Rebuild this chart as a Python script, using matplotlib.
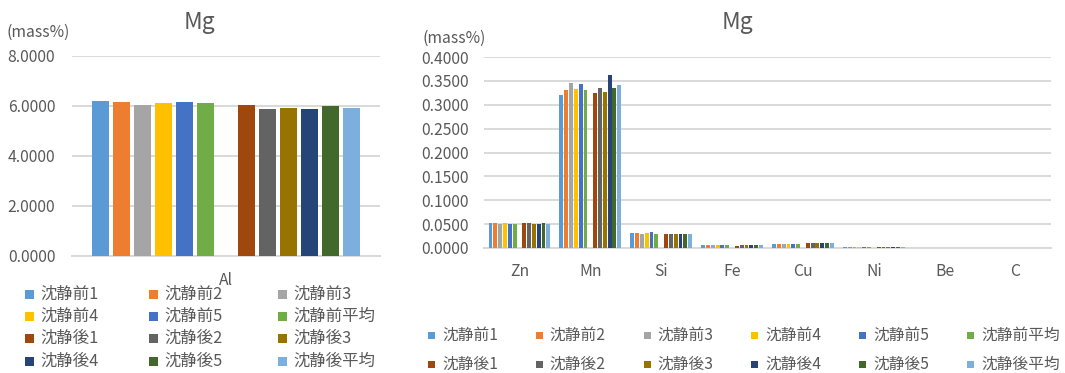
import matplotlib
matplotlib.use("Agg")
import matplotlib.pyplot as plt
from matplotlib.patches import Rectangle
import numpy as np

plt.rcParams['font.family'] = ['Noto Sans CJK JP', 'DejaVu Sans']

# ---- data ----
series_names = ['沈静前1', '沈静前2', '沈静前3', '沈静前4', '沈静前5', '沈静前平均',
                '沈静後1', '沈静後2', '沈静後3', '沈静後4', '沈静後5', '沈静後平均']
series_colors = ['#5B9BD5', '#ED7D31', '#A5A5A5', '#FFC000', '#4472C4', '#70AD47',
                 '#9E480E', '#636363', '#997300', '#264478', '#43682B', '#7CAFDD']

main_categories = ['Al']
al_values = [6.20, 6.16, 6.04, 6.12, 6.15, 6.12,
             6.04, 5.88, 5.92, 5.88, 6.00, 5.93]

trace_categories = ['Zn', 'Mn', 'Si', 'Fe', 'Cu', 'Ni', 'Be', 'C']
before1   = [0.0520, 0.3210, 0.0310, 0.0070, 0.0090, 0.0030, 0.0001, 0.0]
before2   = [0.0520, 0.3300, 0.0310, 0.0070, 0.0090, 0.0030, 0.0001, 0.0]
before3   = [0.0500, 0.3450, 0.0300, 0.0070, 0.0090, 0.0030, 0.0001, 0.0]
before4   = [0.0520, 0.3330, 0.0310, 0.0070, 0.0090, 0.0030, 0.0001, 0.0]
before5   = [0.0505, 0.3430, 0.0330, 0.0070, 0.0090, 0.0030, 0.0001, 0.0]
before_av = [0.0505, 0.3300, 0.0300, 0.0070, 0.0090, 0.0030, 0.0001, 0.0]
after1    = [0.0520, 0.3250, 0.0290, 0.0050, 0.0100, 0.0030, 0.0001, 0.0]
after2    = [0.0520, 0.3350, 0.0290, 0.0065, 0.0110, 0.0030, 0.0001, 0.0]
after3    = [0.0510, 0.3260, 0.0290, 0.0070, 0.0100, 0.0030, 0.0001, 0.0]
after4    = [0.0510, 0.3620, 0.0290, 0.0070, 0.0110, 0.0030, 0.0001, 0.0]
after5    = [0.0530, 0.3360, 0.0290, 0.0070, 0.0100, 0.0030, 0.0001, 0.0]
after_av  = [0.0500, 0.3410, 0.0300, 0.0070, 0.0100, 0.0030, 0.0001, 0.0]
trace_series = [before1, before2, before3, before4, before5, before_av,
                after1, after2, after3, after4, after5, after_av]

# ---- layout helpers (pixel based) ----
W, H = 1065, 373
fig = plt.figure(figsize=(W / 100, H / 100), dpi=100)


def px_axes(x0, y_top, x1, y_bot):
    return fig.add_axes([x0 / W, 1 - y_bot / H, (x1 - x0) / W, (y_bot - y_top) / H])


TEXT = '#595959'
GRID = '#D9D9D9'
SLOT = 0.068      # distance between neighbouring bars within a category
BAR_W = 0.055


def slot_offsets(n):
    # six "before" bars, an empty slot, then six "after" bars
    idx = [j if j < 6 else j + 1 for j in range(n)]
    return [(k - 6) * SLOT for k in idx]


def style_axes(ax, ymax, step, ypad, xpad):
    ax.set_ylim(0, ymax)
    ax.set_yticks(np.arange(0, ymax + step / 2, step))
    ax.yaxis.set_major_formatter(matplotlib.ticker.FormatStrFormatter('%.4f'))
    ax.grid(axis='y', color=GRID, linewidth=1.4)
    ax.set_axisbelow(True)
    for s in ['top', 'right', 'left']:
        ax.spines[s].set_visible(False)
    ax.spines['bottom'].set_color(GRID)
    ax.spines['bottom'].set_linewidth(1.4)
    ax.spines['bottom'].set_zorder(0.6)
    ax.tick_params(axis='both', length=0, labelsize=11.3, labelcolor=TEXT)
    ax.tick_params(axis='y', pad=ypad)
    ax.tick_params(axis='x', pad=xpad)


# ---- left chart: Al ----
ax1 = px_axes(72, 56, 380, 256)
x1 = np.arange(len(main_categories))
for off, val, col in zip(slot_offsets(len(series_names)), al_values, series_colors):
    ax1.bar(x1 + off, [val], width=BAR_W, color=col, zorder=3)
ax1.set_xlim(-0.5, len(main_categories) - 0.5)
ax1.set_xticks(x1)
ax1.set_xticklabels(main_categories)
style_axes(ax1, 8, 2, 12, 11.5)

# ---- right chart: trace elements ----
ax2 = px_axes(484, 57, 1051, 248)
x2 = np.arange(len(trace_categories))
for off, vals, col in zip(slot_offsets(len(series_names)), trace_series, series_colors):
    ax2.bar(x2 + off, vals, width=BAR_W, color=col, zorder=3)
ax2.set_xlim(-0.5, len(trace_categories) - 0.5)
ax2.set_xticks(x2)
ax2.set_xticklabels(trace_categories)
style_axes(ax2, 0.4, 0.05, 11, 11)

# ---- titles and unit labels ----
fig.text(199 / W, 1 - 28.5 / H, 'Mg', ha='center', va='baseline', fontsize=16.5, color=TEXT)
fig.text(737 / W, 1 - 28.5 / H, 'Mg', ha='center', va='baseline', fontsize=16.5, color=TEXT)
fig.text(7 / W, 1 - 32 / H, '(mass%)', ha='left', va='center', fontsize=11.3, color=TEXT)
fig.text(422 / W, 1 - 38 / H, '(mass%)', ha='left', va='center', fontsize=11.3, color=TEXT)


# ---- legends (equal-width columns) ----
def draw_legend(x_cols, y_rows, ncol, sq, text_dx, fontsize):
    for i, (name, col) in enumerate(zip(series_names, series_colors)):
        r, c = divmod(i, ncol)
        x, y = x_cols[c], y_rows[r]
        fig.add_artist(Rectangle((x / W, 1 - (y + sq / 2) / H), sq / W, sq / H,
                                 transform=fig.transFigure, color=col, lw=0))
        fig.text((x + text_dx) / W, 1 - y / H, name, ha='left', va='center',
                 fontsize=fontsize, color=TEXT)


draw_legend([25, 149, 278], [294, 316, 338, 361], 3, 9, 15, 11.8)
draw_legend([428 + k * 107.8 for k in range(6)], [335, 364], 6, 7, 14, 11.3)

fig.savefig('out.png', dpi=100)
